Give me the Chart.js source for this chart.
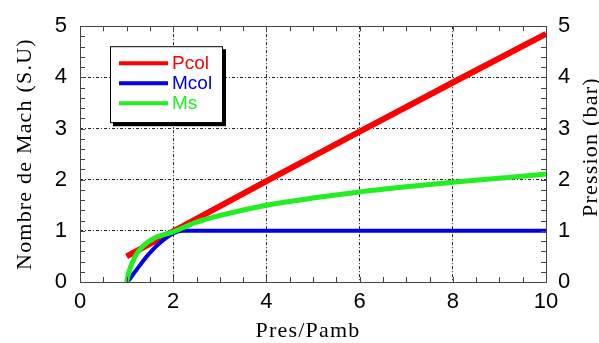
<!DOCTYPE html>
<html>
<head>
<meta charset="utf-8">
<script src="https://cdn.jsdelivr.net/npm/chart.js@4.4.1/dist/chart.umd.min.js"></script>
<style>
  html, body { margin: 0; padding: 0; background: #fff; }
  #wrap { width: 599px; height: 343px; }
</style>
</head>
<body>
<div id="wrap"><canvas id="chart" width="599" height="343"></canvas></div>
<script>
// values
const pcolX = [1, 2, 4, 6, 8, 10];
const pcolY = [0.5, 0.99, 1.97, 2.94, 3.9, 4.85];
const mcolX = [1, 1.04, 1.18, 1.47, 1.75, 2, 2.2, 4, 6, 8, 10];
const mcolY = [0, 0.03, 0.2, 0.54, 0.79, 0.95, 1, 1, 1, 1, 1];
const msX = [1, 1.05, 1.1, 1.2, 1.35, 1.6, 2, 2.5, 3, 4, 5, 6, 7, 8, 9, 10];
const msY = [0, 0.2, 0.33, 0.53, 0.7, 0.86, 0.98, 1.17, 1.3, 1.5, 1.64, 1.76, 1.86, 1.95, 2.03, 2.11];
const seriesNames = ["Pcol", "Mcol", "Ms"];
const xTicks = [0, 2, 4, 6, 8, 10];
const yTicks = [0, 1, 2, 3, 4, 5];
const xTitle = "Pres/Pamb";
const yTitle = "Nombre de Mach (S.U)";
const y2Title = "Pression (bar)";

const SANS = '"Liberation Sans", Arial, sans-serif';
const SERIF = '"Liberation Serif", "Times New Roman", serif';

function toPoints(xs, ys) {
  return xs.map((x, i) => ({ x: x, y: ys[i] }));
}

function gridColor(ctx) {
  const s = ctx.scale;
  if (!ctx.tick) return "rgba(0,0,0,0)";
  return ctx.tick.value === s.min || ctx.tick.value === s.max ? "rgba(0,0,0,0)" : "#222";
}

// frame and inward ticks on all four sides
const framePlugin = {
  id: "frame",
  afterDatasetsDraw(chart) {
    const ctx = chart.ctx;
    const a = chart.chartArea;
    const sx = chart.scales.x;
    const sy = chart.scales.y;
    ctx.save();
    ctx.strokeStyle = "#444";
    ctx.lineWidth = 1;
    ctx.beginPath();
    for (let v = sx.min; v <= sx.max + 1e-9; v += 0.5) {
      const px = Math.round(sx.getPixelForValue(v)) + 0.5;
      ctx.moveTo(px, a.bottom);
      ctx.lineTo(px, a.bottom - 5);
      ctx.moveTo(px, a.top);
      ctx.lineTo(px, a.top + 5);
    }
    for (let v = sy.min; v <= sy.max + 1e-9; v += 0.2) {
      const py = Math.round(sy.getPixelForValue(v)) + 0.5;
      ctx.moveTo(a.left, py);
      ctx.lineTo(a.left + 5, py);
      ctx.moveTo(a.right, py);
      ctx.lineTo(a.right - 5, py);
    }
    ctx.stroke();
    ctx.strokeRect(Math.round(a.left) + 0.5, Math.round(a.top) + 0.5,
      Math.round(a.right - a.left), Math.round(a.bottom - a.top));
    ctx.restore();
  }
};

function drawTitle(ctx, text, x, y, angle) {
  ctx.save();
  ctx.translate(x, y);
  ctx.rotate(angle);
  ctx.fillStyle = "#000";
  ctx.font = "22px " + SERIF;
  ctx.letterSpacing = "1.2px";
  ctx.textAlign = "center";
  ctx.textBaseline = "middle";
  ctx.fillText(text, 0, 0);
  ctx.restore();
}

// boxed legend with a drop shadow, and the axis titles
const extrasPlugin = {
  id: "extras",
  afterDraw(chart) {
    const ctx = chart.ctx;
    const a = chart.chartArea;
    const bx = a.left + 30, by = a.top + 20, bw = 112, bh = 76;
    ctx.save();
    ctx.fillStyle = "#000";
    ctx.fillRect(bx + 3, by + 3, bw + 1, bh + 1);
    ctx.fillStyle = "#fff";
    ctx.fillRect(bx, by, bw, bh);
    ctx.strokeStyle = "#000";
    ctx.lineWidth = 1;
    ctx.strokeRect(bx + 0.5, by + 0.5, bw, bh);
    chart.data.datasets.forEach((ds, i) => {
      const y = by + 17 + i * 20;
      ctx.strokeStyle = ds.borderColor;
      ctx.lineWidth = 4;
      ctx.beginPath();
      ctx.moveTo(bx + 9, y);
      ctx.lineTo(bx + 58, y);
      ctx.stroke();
      ctx.fillStyle = ds.borderColor;
      ctx.font = "19px " + SANS;
      ctx.textBaseline = "middle";
      ctx.textAlign = "left";
      ctx.fillText(ds.label, bx + 62, y + 1);
    });
    ctx.restore();

    const midY = (a.top + a.bottom) / 2;
    drawTitle(ctx, yTitle, 25, midY, -Math.PI / 2);
    drawTitle(ctx, y2Title, 591, midY - 7, -Math.PI / 2);
    drawTitle(ctx, xTitle, (a.left + a.right) / 2 - 5, 331, 0);
  }
};

const tickFont = { family: SANS, size: 22 };

new Chart(document.getElementById("chart"), {
  type: "line",
  data: {
    datasets: [
      { label: seriesNames[0], data: toPoints(pcolX, pcolY), borderColor: "#ff0000", borderWidth: 6, tension: 0, order: 3 },
      { label: seriesNames[1], data: toPoints(mcolX, mcolY), borderColor: "#0000e8", borderWidth: 4, cubicInterpolationMode: "monotone", order: 2 },
      { label: seriesNames[2], data: toPoints(msX, msY), borderColor: "#22ee22", borderWidth: 5, cubicInterpolationMode: "monotone", order: 1 }
    ]
  },
  options: {
    responsive: false,
    animation: false,
    layout: { padding: { top: 26, left: 0, right: 0, bottom: 0 } },
    elements: { point: { radius: 0 } },
    plugins: { legend: { display: false }, tooltip: { enabled: false } },
    scales: {
      x: {
        type: "linear",
        position: "bottom",
        min: 0,
        max: 10,
        afterBuildTicks: (s) => { s.ticks = xTicks.map((v) => ({ value: v })); },
        afterFit: (s) => { s.height = 61; },
        ticks: { color: "#000", font: tickFont, padding: 7, maxRotation: 0 },
        grid: { color: gridColor, drawTicks: false, lineWidth: 1 },
        border: { display: false, dash: [3, 2, 1, 2] }
      },
      y: {
        type: "linear",
        position: "left",
        min: 0,
        max: 5,
        afterBuildTicks: (s) => { s.ticks = yTicks.map((v) => ({ value: v })); },
        afterFit: (s) => { s.width = 80; },
        ticks: { color: "#000", font: tickFont, padding: 13 },
        grid: { color: gridColor, drawTicks: false, lineWidth: 1 },
        border: { display: false, dash: [3, 2, 1, 2] }
      },
      y2: {
        type: "linear",
        position: "right",
        min: 0,
        max: 5,
        afterBuildTicks: (s) => { s.ticks = yTicks.map((v) => ({ value: v })); },
        afterFit: (s) => { s.width = 53; },
        ticks: { color: "#000", font: tickFont, padding: 12 },
        grid: { drawOnChartArea: false, drawTicks: false },
        border: { display: false }
      }
    }
  },
  plugins: [framePlugin, extrasPlugin]
});
</script>
</body>
</html>
